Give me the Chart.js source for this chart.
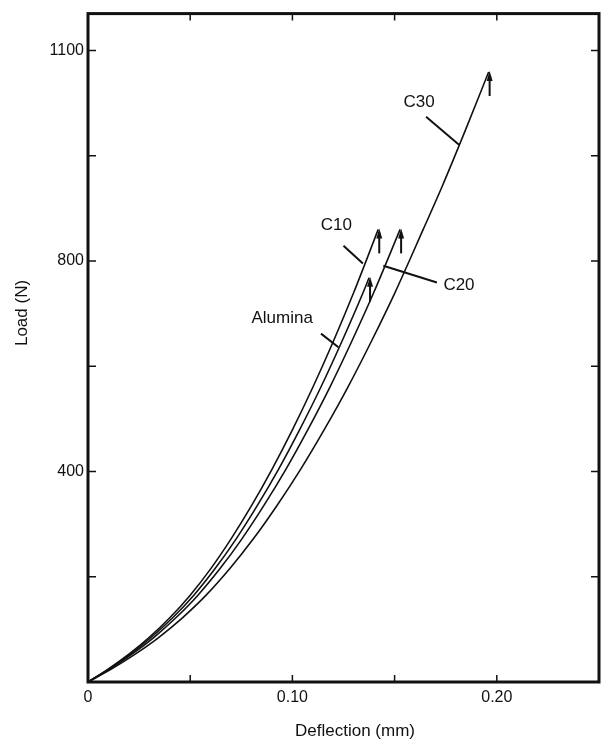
<!DOCTYPE html>
<html>
<head>
<meta charset="utf-8">
<script src="https://cdn.jsdelivr.net/npm/chart.js@4"></script>
<style>
  html, body { margin: 0; padding: 0; background: #fff; }
  #wrap { width: 605px; height: 742px; }
</style>
</head>
<body>
<div id="wrap"><canvas id="chart" width="605" height="742"></canvas></div>
<script>
// deflection (mm) / load (N)
const c10X = [0, 0.01, 0.02, 0.03, 0.04, 0.05, 0.06, 0.07, 0.08, 0.09, 0.10, 0.11, 0.12, 0.13, 0.142];
const c10Y = [0, 25, 53, 85, 122, 165, 215, 272, 335, 404, 479, 560, 647, 740, 860];

const aluminaX = [0, 0.0104, 0.0207, 0.031, 0.0414, 0.0518, 0.0621, 0.0725, 0.0828, 0.0932, 0.1035, 0.1139, 0.1242, 0.1346, 0.1375];
const aluminaY = [0, 25, 53, 85, 122, 165, 215, 272, 335, 404, 479, 560, 647, 740, 768];

const c20X = [0, 0.0108, 0.0215, 0.0323, 0.043, 0.0538, 0.0645, 0.0753, 0.086, 0.0968, 0.1075, 0.1183, 0.129, 0.1398, 0.1527];
const c20Y = [0, 25, 53, 85, 122, 165, 215, 272, 335, 404, 479, 560, 647, 740, 860];

const c30X = [0, 0.0116, 0.0231, 0.0347, 0.0462, 0.0578, 0.0693, 0.0809, 0.0924, 0.104, 0.1155, 0.1271, 0.1386, 0.1502, 0.164, 0.1733, 0.1848, 0.196];
const c30Y = [0, 25, 53, 85, 122, 165, 215, 272, 335, 404, 479, 560, 647, 740, 860, 942, 1050, 1159];

const seriesNames = ["C10", "Alumina", "C20", "C30"];

// tick labels as printed on the figure
const xTickLabels = { 0: "0", 10: "0.10", 20: "0.20" };
const yTickLabels = { 400: "400", 800: "800", 1200: "1100" };

// label text + pointer (data coords)
const notes = [
  { text: "C30", at: [0.162, 1102], from: [0.1654, 1074], to: [0.1815, 1021] },
  { text: "C10", at: [0.1215, 867], from: [0.125, 829], to: [0.1345, 795] },
  { text: "C20", at: [0.1815, 753], from: [0.1707, 759], to: [0.1445, 791] },
  { text: "Alumina", at: [0.095, 691], from: [0.114, 662], to: [0.1225, 636] },
];

const toPoints = (xs, ys) => xs.map((x, i) => ({ x: x, y: ys[i] }));

const ink = "#111";
const FONT = "'Liberation Sans', Arial, sans-serif";

const figurePlugin = {
  id: "figure",
  afterDatasetsDraw(chart) {
    const ctx = chart.ctx;
    const { left, right, top, bottom } = chart.chartArea;
    const xs = chart.scales.x, ys = chart.scales.y;
    ctx.save();
    ctx.strokeStyle = ink;
    ctx.fillStyle = ink;

    // frame
    ctx.lineWidth = 3;
    ctx.strokeRect(left, top, right - left, bottom - top);

    // inward ticks on all four sides
    ctx.lineWidth = 1.5;
    ctx.beginPath();
    xs.ticks.forEach((t) => {
      const px = xs.getPixelForValue(t.value);
      if (px <= left + 2 || px >= right - 2) return;
      ctx.moveTo(px, bottom); ctx.lineTo(px, bottom - 7);
      ctx.moveTo(px, top); ctx.lineTo(px, top + 7);
    });
    ys.ticks.forEach((t) => {
      const py = ys.getPixelForValue(t.value);
      if (py >= bottom - 2 || py <= top + 2) return;
      ctx.moveTo(left, py); ctx.lineTo(left + 8, py);
      ctx.moveTo(right, py); ctx.lineTo(right - 8, py);
    });
    ctx.stroke();

    // fracture arrows at the end of each curve
    chart.data.datasets.forEach((ds) => {
      const last = ds.data[ds.data.length - 1];
      const px = xs.getPixelForValue(last.x) + 1;
      const py = ys.getPixelForValue(last.y);
      ctx.lineWidth = 2;
      ctx.beginPath();
      ctx.moveTo(px, py + 3);
      ctx.lineTo(px, py + 24);
      ctx.stroke();
      ctx.beginPath();
      ctx.moveTo(px, py - 1);
      ctx.lineTo(px - 3, py + 9);
      ctx.lineTo(px + 3, py + 9);
      ctx.closePath();
      ctx.fill();
    });

    // curve labels with pointer lines
    ctx.font = "17px " + FONT;
    ctx.textAlign = "center";
    ctx.textBaseline = "middle";
    notes.forEach((n) => {
      ctx.fillText(n.text, xs.getPixelForValue(n.at[0]), ys.getPixelForValue(n.at[1]));
      ctx.lineWidth = 2;
      ctx.beginPath();
      ctx.moveTo(xs.getPixelForValue(n.from[0]), ys.getPixelForValue(n.from[1]));
      ctx.lineTo(xs.getPixelForValue(n.to[0]), ys.getPixelForValue(n.to[1]));
      ctx.stroke();
    });

    // axis titles
    ctx.font = "17px " + FONT;
    ctx.fillText("Deflection (mm)", 355, 731);
    ctx.translate(22, 313);
    ctx.rotate(-Math.PI / 2);
    ctx.fillText("Load (N)", 0, 0);
    ctx.restore();
  },
};

const lineStyle = {
  borderColor: ink,
  borderWidth: 1.6,
  pointRadius: 0,
  fill: false,
  cubicInterpolationMode: "monotone",
};

new Chart(document.getElementById("chart"), {
  type: "line",
  data: {
    datasets: [
      { label: seriesNames[0], data: toPoints(c10X, c10Y), ...lineStyle },
      { label: seriesNames[1], data: toPoints(aluminaX, aluminaY), ...lineStyle },
      { label: seriesNames[2], data: toPoints(c20X, c20Y), ...lineStyle },
      { label: seriesNames[3], data: toPoints(c30X, c30Y), ...lineStyle },
    ],
  },
  options: {
    responsive: false,
    animation: false,
    layout: { padding: { top: 12, right: 4, left: 0, bottom: 0 } },
    plugins: { legend: { display: false }, tooltip: { enabled: false } },
    scales: {
      x: {
        type: "linear",
        min: 0,
        max: 0.25,
        grid: { display: false, drawTicks: false },
        border: { display: false },
        afterFit: (s) => { s.height = 60; },
        ticks: {
          stepSize: 0.05,
          padding: 6,
          color: ink,
          font: { family: FONT, size: 16 },
          maxRotation: 0,
          autoSkip: false,
          callback: (v) => xTickLabels[Math.round(v * 100)] || "",
        },
      },
      y: {
        min: 0,
        max: 1270,
        grid: { display: false, drawTicks: false },
        border: { display: false },
        afterFit: (s) => { s.width = 88; },
        ticks: {
          stepSize: 200,
          padding: 4,
          color: ink,
          font: { family: FONT, size: 16 },
          autoSkip: false,
          callback: (v) => yTickLabels[Math.round(v)] || "",
        },
      },
    },
  },
  plugins: [figurePlugin],
});
</script>
</body>
</html>
